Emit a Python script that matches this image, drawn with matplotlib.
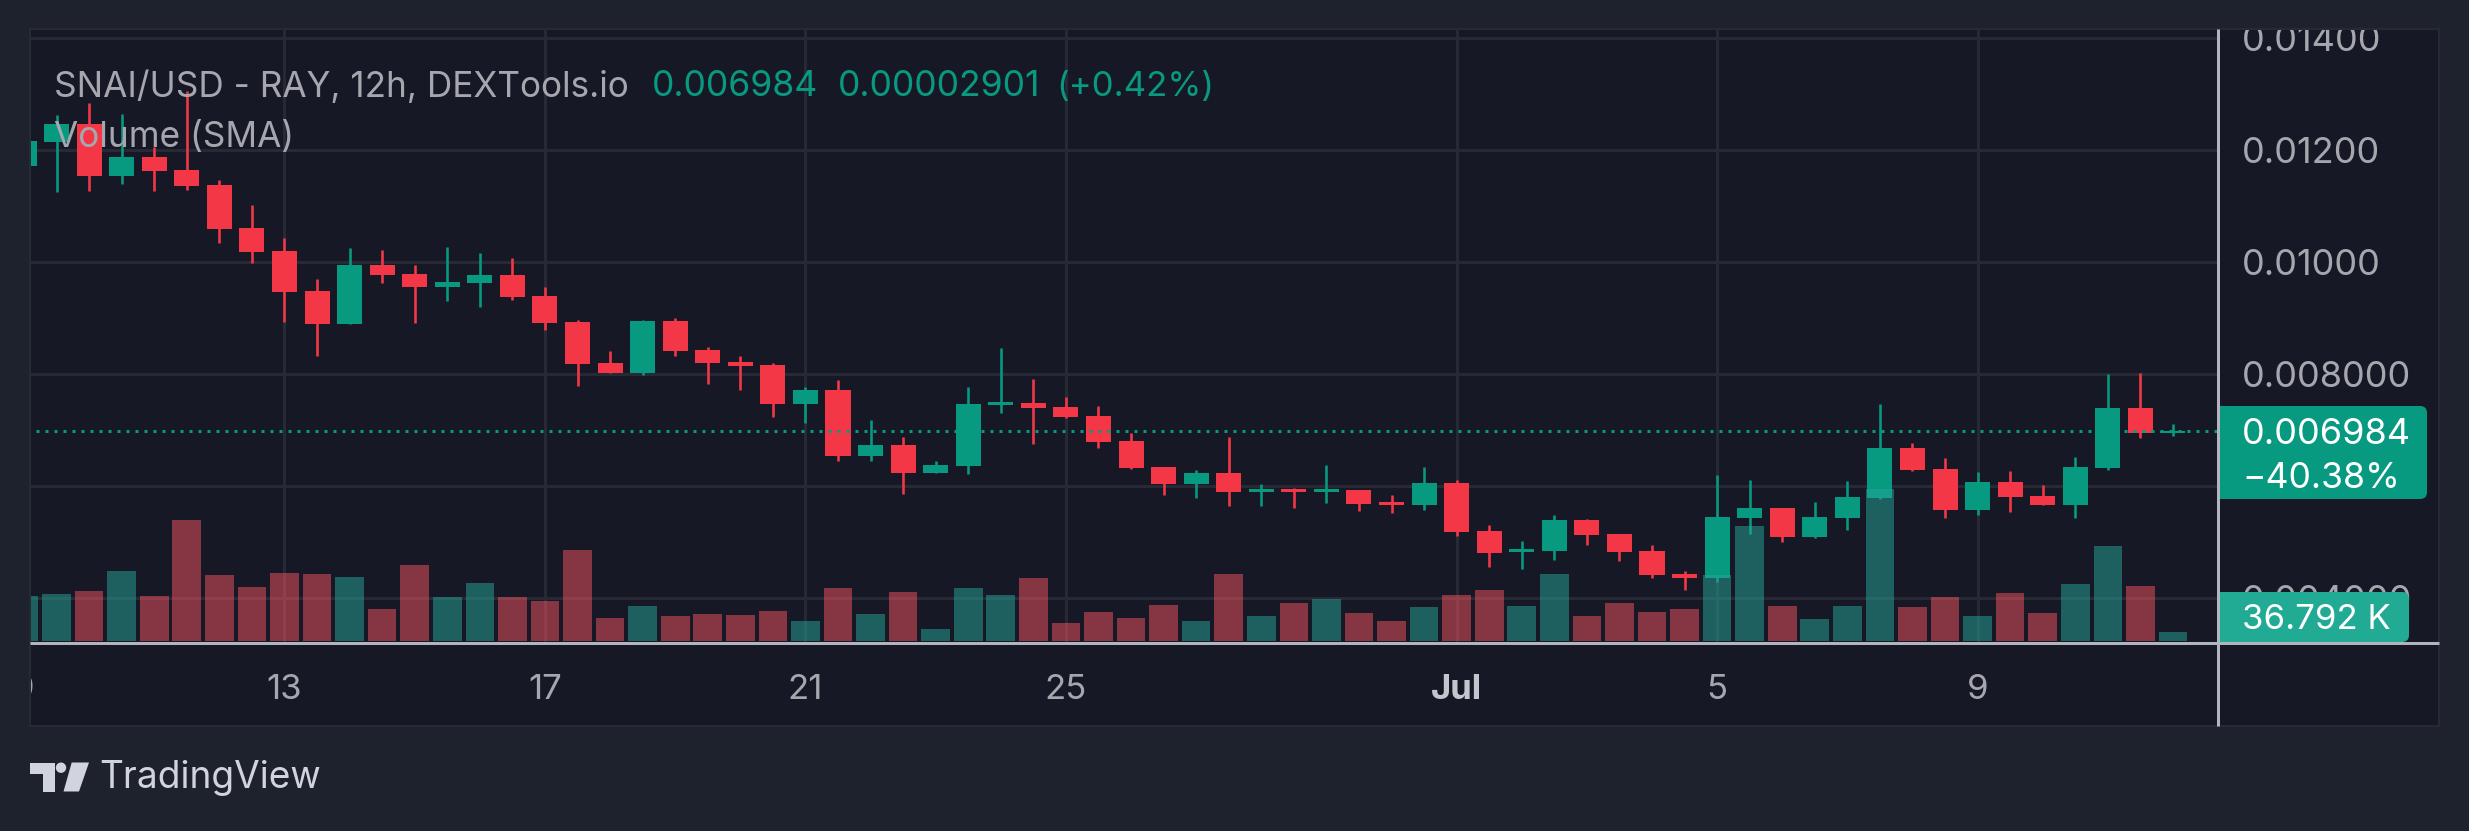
import matplotlib
matplotlib.use("Agg")
import matplotlib.pyplot as plt
from matplotlib.patches import Rectangle, FancyBboxPatch, Polygon, Circle

W, H = 2469, 831

opens = [0.011708, 0.012149, 0.012470, 0.011541, 0.011881, 0.011649, 0.011381, 0.010613, 0.010202, 0.009488,
         0.008899, 0.009952, 0.009792, 0.009559, 0.009631, 0.009774, 0.009399, 0.008934, 0.008202, 0.008024,
         0.008952, 0.008434, 0.008220, 0.008167, 0.007470, 0.007720, 0.006542, 0.006738, 0.006238, 0.006363,
         0.007452, 0.007488, 0.007417, 0.007256, 0.006810, 0.006345, 0.006042, 0.006238, 0.005899, 0.005953,
         0.005899, 0.005935, 0.005720, 0.005667, 0.006060, 0.005203, 0.004828, 0.004845, 0.005399, 0.005149,
         0.004845, 0.004435, 0.004363, 0.005435, 0.005613, 0.005095, 0.005435, 0.005792, 0.006685, 0.006310,
         0.005577, 0.006078, 0.005828, 0.005667, 0.006327, 0.007399, 0.006955]
highs = [0.012166, 0.012631, 0.012845, 0.012649, 0.012059, 0.013059, 0.011470, 0.011024, 0.010434, 0.009702,
         0.010256, 0.010220, 0.009952, 0.010274, 0.010167, 0.010077, 0.009559, 0.008970, 0.008417, 0.008970,
         0.009006, 0.008488, 0.008327, 0.008202, 0.007774, 0.007899, 0.007185, 0.006881, 0.006452, 0.007774,
         0.008470, 0.007917, 0.007595, 0.007435, 0.006952, 0.006345, 0.006292, 0.006881, 0.006042, 0.005970,
         0.006381, 0.005935, 0.005845, 0.006345, 0.006113, 0.005310, 0.005024, 0.005488, 0.005417, 0.005149,
         0.004953, 0.004488, 0.006202, 0.006113, 0.005613, 0.005720, 0.006095, 0.007470, 0.006774, 0.006506,
         0.006256, 0.006274, 0.006024, 0.006524, 0.008006, 0.008024, 0.007113]
lows = [0.011708, 0.011256, 0.011274, 0.011399, 0.011274, 0.011291, 0.010345, 0.009988, 0.008934, 0.008327,
        0.008899, 0.009631, 0.008917, 0.009309, 0.009202, 0.009327, 0.008792, 0.007792, 0.008024, 0.007988,
        0.008327, 0.007827, 0.007720, 0.007238, 0.007131, 0.006452, 0.006452, 0.005863, 0.006238, 0.006220,
        0.007310, 0.006756, 0.007220, 0.006685, 0.006310, 0.005845, 0.005792, 0.005649, 0.005649, 0.005613,
        0.005703, 0.005560, 0.005524, 0.005577, 0.005113, 0.004560, 0.004524, 0.004685, 0.004953, 0.004667,
        0.004363, 0.004149, 0.004292, 0.005149, 0.005006, 0.005078, 0.005220, 0.005774, 0.006274, 0.005435,
        0.005488, 0.005542, 0.005667, 0.005435, 0.006292, 0.006863, 0.006899]
closes = [0.012166, 0.012470, 0.011541, 0.011881, 0.011631, 0.011363, 0.010595, 0.010184, 0.009470, 0.008899,
          0.009952, 0.009774, 0.009559, 0.009649, 0.009774, 0.009381, 0.008917, 0.008185, 0.008024, 0.008952,
          0.008417, 0.008202, 0.008149, 0.007470, 0.007720, 0.006542, 0.006738, 0.006238, 0.006381, 0.007470,
          0.007506, 0.007399, 0.007238, 0.006792, 0.006327, 0.006042, 0.006238, 0.005899, 0.005953, 0.005899,
          0.005953, 0.005685, 0.005667, 0.006060, 0.005185, 0.004810, 0.004881, 0.005399, 0.005131, 0.004828,
          0.004417, 0.004363, 0.005453, 0.005613, 0.005095, 0.005453, 0.005810, 0.006685, 0.006292, 0.005577,
          0.006078, 0.005810, 0.005667, 0.006345, 0.007399, 0.006952, 0.006984]
volumes = [184, 192, 204, 286, 184, 495, 270, 221, 278, 274, 262, 131, 311, 180, 237, 180, 164, 372, 94, 143,
           102, 110, 106, 123, 82, 217, 110, 200, 49, 217, 188, 258, 74, 119, 94, 147, 82, 274, 102, 155,
           172, 114, 82, 139, 188, 208, 143, 274, 102, 155, 119, 131, 270, 470, 143, 90, 143, 621, 139, 180,
           102, 196, 114, 233, 388, 225, 36.792]

price_ticks = [0.004, 0.006, 0.008, 0.010, 0.012, 0.014]
price_labels = ["0.004000", "0.006000", "0.008000", "0.01000", "0.01200", "0.01400"]
date_ticks = [0, 8, 16, 24, 32, 44, 52, 60]
date_labels = ["9", "13", "17", "21", "25", "Jul", "5", "9"]
last_price = 0.006984

OUTER = "#1e222d"
PANEL = "#161925"
GRID = "#272a35"
AXIS = "#b2b5be"
TEXT = "#a6a7ae"
UP = "#089981"
DOWN = "#f43747"
VOL_UP = "#26a69a"
VOL_DOWN = "#f7525f"
TAG_VOL = "#22ab94"

px = 1 / 1.3889  # pixel widths to points at dpi 100
font = "Inter"

fig = plt.figure(figsize=(W / 100, H / 100), dpi=100, facecolor=OUTER)
plt.rcParams["font.family"] = [font, "DejaVu Sans"]

# panel behind everything
fig.add_artist(Rectangle((30 / W, 1 - 726 / H), 2409 / W, 697 / H, transform=fig.transFigure,
                         facecolor=PANEL, edgecolor=GRID, linewidth=2 * px, zorder=-1))

# price pane runs from x=0 so the first candle and label get cut by the strips below
ax = fig.add_axes([0, 1 - 643 / H, 2218 / W, 643 / H])
ax.patch.set_alpha(0)
ax.set_xlim(-24 / 32.56, (2218 - 24) / 32.56)
ax.set_ylim(0.008 - (643 - 374) / 56000, 0.008 + 374 / 56000)
ax.set_axisbelow(True)
ax.grid(True, color=GRID, linewidth=3 * px)
ax.set_xticks(date_ticks)
ax.set_xticklabels(date_labels)
ax.yaxis.tick_right()
ax.set_yticks(price_ticks)
ax.set_yticklabels(price_labels)
ax.tick_params(axis="y", length=0, pad=17, labelsize=26, labelcolor=TEXT)
ax.tick_params(axis="x", length=0, pad=22, labelsize=25, labelcolor=TEXT)
for lbl in ax.get_xticklabels():
    if lbl.get_text() == "Jul":
        lbl.set_fontweight("bold")
        lbl.set_color("#c4c6cd")
for spine in ax.spines.values():
    spine.set_visible(False)

xs = list(range(len(opens)))
colors = [UP if c >= o else DOWN for o, c in zip(opens, closes)]
ax.vlines(xs, lows, highs, colors=colors, linewidth=2.6 * px, zorder=3)
ax.bar(xs, [abs(c - o) for o, c in zip(opens, closes)], bottom=[min(o, c) for o, c in zip(opens, closes)],
       width=0.77, color=colors, linewidth=0, zorder=4)
ax.axhline(last_price, color=UP, linewidth=3 * px, linestyle=(0, (1, 2)), zorder=5)

# volume pane on top, see-through like the original
vax = fig.add_axes([0, 1 - 643 / H, 2218 / W, 643 / H], sharex=ax)
vax.patch.set_alpha(0)
vax.set_ylim(-2 * 4.088, 641 * 4.088)
vax.axis("off")
vol_colors = [VOL_UP if c >= o else VOL_DOWN for o, c in zip(opens, closes)]
vax.bar(xs, volumes, width=0.88, color=vol_colors, alpha=0.5, linewidth=0)

# overlay in pixel coordinates: strips, axis lines, legend, tags, logo
top = fig.add_axes([0, 0, 1, 1])
top.set_xlim(0, W)
top.set_ylim(H, 0)
top.patch.set_alpha(0)
top.axis("off")

top.add_patch(Rectangle((0, 0), 30, H, facecolor=OUTER, linewidth=0))
top.add_patch(Rectangle((0, 0), W, 29, facecolor=OUTER, linewidth=0))
top.add_patch(Rectangle((30, 29), 2409, 697, fill=False, edgecolor=GRID, linewidth=2 * px))
top.plot([2218, 2218], [29, 726], color=AXIS, linewidth=3 * px, solid_capstyle="butt")
top.plot([30, 2439], [643, 643], color=AXIS, linewidth=3 * px, solid_capstyle="butt")

top.text(54, 87, "SNAI/USD - RAY, 12h, DEXTools.io", color=TEXT, fontsize=25.3, va="center")
top.text(652, 87, "0.006984", color=UP, fontsize=25.6, va="center")
top.text(838, 87, "0.00002901", color=UP, fontsize=25.6, va="center")
top.text(1056, 87, "(+0.42%)", color=UP, fontsize=25, va="center")
top.text(54, 138, "Volume (SMA)", color=TEXT, fontsize=25.3, va="center")

top.add_patch(FancyBboxPatch((2217, 406), 210, 93, boxstyle="round,pad=0,rounding_size=7", facecolor=UP, linewidth=0))
top.add_patch(Rectangle((2217, 406), 40, 93, facecolor=UP, linewidth=0))
top.text(2242, 434, "0.006984", color="white", fontsize=26, va="center")
top.text(2242, 479, "−40.38%", color="white", fontsize=25.6, va="center")

top.add_patch(FancyBboxPatch((2217, 592), 192, 50, boxstyle="round,pad=0,rounding_size=7", facecolor=TAG_VOL, linewidth=0))
top.add_patch(Rectangle((2217, 592), 40, 50, facecolor=TAG_VOL, linewidth=0))
top.text(2242, 620, "36.792 K", color="white", fontsize=25, va="center")

# TradingView logo
LOGO = "#d1d4dc"
top.add_patch(Polygon([(30, 762.5), (54.5, 762.5), (54.5, 791.5), (42.7, 791.5), (42.7, 774), (30, 774)],
                      facecolor=LOGO, linewidth=0))
top.add_patch(Circle((61, 767.7), 5.2, facecolor=LOGO, linewidth=0))
top.add_patch(Polygon([(71.7, 762.5), (89, 762.5), (79, 791.5), (63.5, 791.5)], facecolor=LOGO, linewidth=0))
top.text(99, 778, "TradingView", color=LOGO, fontsize=26.7, va="center")

fig.savefig("out.png", dpi=100, facecolor=OUTER)
